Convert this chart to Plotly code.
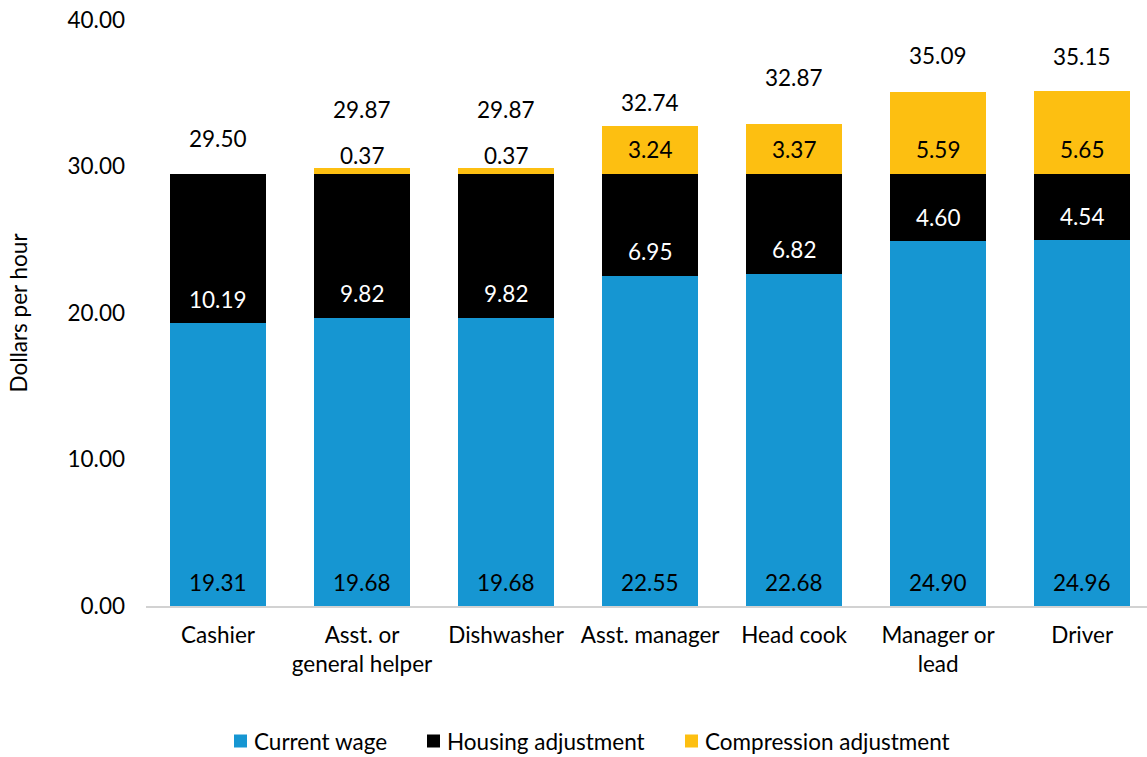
import plotly.graph_objects as go

# Hourly wage build-up by job
jobs = ["Cashier", "Asst. or<br>general helper", "Dishwasher", "Asst. manager",
        "Head cook", "Manager or<br>lead", "Driver"]
current_wage = [19.31, 19.68, 19.68, 22.55, 22.68, 24.90, 24.96]
housing_adj = [10.19, 9.82, 9.82, 6.95, 6.82, 4.60, 4.54]
compression_adj = [0.00, 0.37, 0.37, 3.24, 3.37, 5.59, 5.65]
totals = [29.50, 29.87, 29.87, 32.74, 32.87, 35.09, 35.15]
y_ticks = [0, 10, 20, 30, 40]
series_names = ["Current wage", "Housing adjustment", "Compression adjustment"]

BLUE = "#1696d2"
BLACK = "#000000"
YELLOW = "#fdbf11"
FONT = "Lato, 'Open Sans', sans-serif"
FS = 22.5

W, H = 1147, 757
M_L, M_R, M_T, M_B = 146, 0, 20, 151
PLOT_W = W - M_L - M_R
PLOT_H = H - M_T - M_B

fig = go.Figure()
series = list(zip(series_names, [current_wage, housing_adj, compression_adj],
                  [BLUE, BLACK, YELLOW]))
for name, vals, color in series:
    fig.add_trace(go.Bar(
        name=name, x=jobs, y=vals,
        marker=dict(color=color, line=dict(width=0)),
        hoverinfo="skip", showlegend=False,
    ))

# Segment value labels, placed just above each segment's base
annotations = []
shapes = []
label_colors = [BLACK, "#ffffff", BLACK]
base = [0.0] * len(jobs)
for (name, vals, color), tcol in zip(series, label_colors):
    for i, v in enumerate(vals):
        if v > 0:
            lift = 24 if v >= 1 else 18
            annotations.append(dict(
                x=jobs[i], y=base[i], yref="y", xref="x",
                text=f"{v:.2f}", showarrow=False, yanchor="middle",
                yshift=lift, font=dict(family=FONT, size=FS, color=tcol),
            ))
        base[i] += v

# Totals above each stack
total_lift = [35, 59, 59, 24, 47, 36, 35]
for i, t in enumerate(totals):
    annotations.append(dict(
        x=jobs[i], y=t, xref="x", yref="y", text=f"{t:.2f}", showarrow=False,
        yanchor="middle", yshift=total_lift[i],
        font=dict(family=FONT, size=FS, color=BLACK),
    ))


# Legend row below the chart: square swatch followed by its label
def px_x(px):
    return (px - M_L) / PLOT_W


def px_y(py):
    return (H - M_B - py) / PLOT_H


legend_y = 741
swatch_left = [234, 427, 685]
SW = 13
for (name, vals, color), x0 in zip(series, swatch_left):
    shapes.append(dict(
        type="rect", xref="paper", yref="paper",
        x0=px_x(x0), x1=px_x(x0 + SW),
        y0=px_y(legend_y + SW / 2), y1=px_y(legend_y - SW / 2),
        fillcolor=color, line=dict(width=0),
    ))
    annotations.append(dict(
        x=px_x(x0 + SW + 5), y=px_y(legend_y), xref="paper", yref="paper",
        xanchor="left", yanchor="middle", text=name, showarrow=False,
        font=dict(family=FONT, size=FS, color=BLACK),
    ))

fig.update_layout(
    width=W, height=H,
    margin=dict(l=M_L, r=M_R, t=M_T, b=M_B, autoexpand=False),
    barmode="stack", bargap=1 / 3,
    plot_bgcolor="white", paper_bgcolor="white",
    font=dict(family=FONT, size=FS, color=BLACK),
    showlegend=False,
    annotations=annotations,
    shapes=shapes,
    xaxis=dict(type="category", range=[-0.5, 6.45], showgrid=False,
               showline=True, linecolor="#d2d2d2", linewidth=2, automargin=False,
               ticks="", ticklabelstandoff=8,
               tickfont=dict(family=FONT, size=FS, color=BLACK)),
    yaxis=dict(range=[0, 40], tickvals=y_ticks, tickformat=".2f", showgrid=False,
               zeroline=False, showline=False, ticks="", ticklabelstandoff=20,
               automargin=False,
               tickfont=dict(family=FONT, size=FS, color=BLACK),
               title=dict(text="Dollars per hour", standoff=33,
                          font=dict(family=FONT, size=FS, color=BLACK))),
)

fig.write_html("out.html")
